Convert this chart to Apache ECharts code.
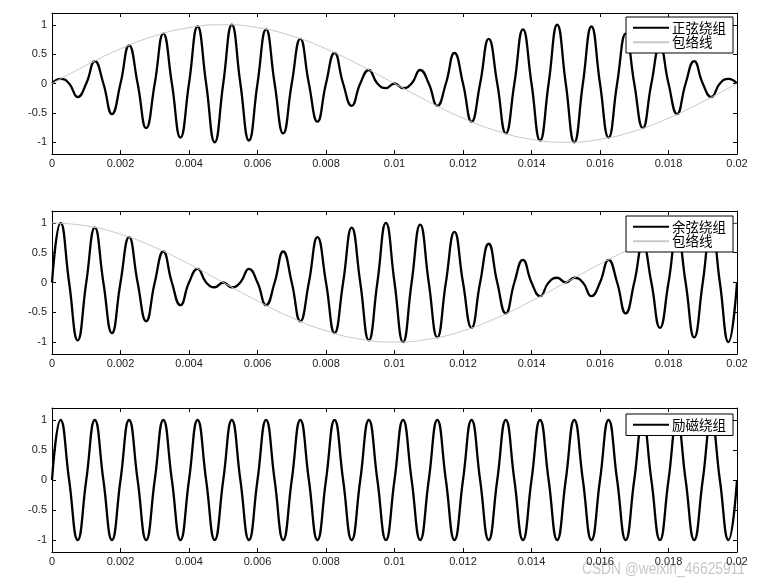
<!DOCTYPE html>
<html>
<head>
<meta charset="utf-8">
<script src="https://cdn.jsdelivr.net/npm/echarts@6/dist/echarts.min.js"></script>
<style>
html, body { margin: 0; background: #fff; }
#chart { width: 761px; height: 585px; }
</style>
</head>
<body>
<div id="chart"></div>
<script>
// peak of every half cycle of the 1 kHz carrier (one per 0.0005 s)
var sinePeaks = [0.08, -0.23, 0.38, -0.52, 0.65, -0.76, 0.85, -0.92, 0.97, -1, 1, -0.97, 0.92, -0.85, 0.76, -0.65, 0.52, -0.38, 0.23, -0.08,
                 -0.08, 0.23, -0.38, 0.52, -0.65, 0.76, -0.85, 0.92, -0.97, 1, -1, 0.97, -0.92, 0.85, -0.76, 0.65, -0.52, 0.38, -0.23, 0.08];
var cosPeaks = [1, -0.97, 0.92, -0.85, 0.76, -0.65, 0.52, -0.38, 0.23, -0.08, -0.08, 0.23, -0.38, 0.52, -0.65, 0.76, -0.85, 0.92, -0.97, 1,
                -1, 0.97, -0.92, 0.85, -0.76, 0.65, -0.52, 0.38, -0.23, 0.08, 0.08, -0.23, 0.38, -0.52, 0.65, -0.76, 0.85, -0.92, 0.97, -1];
var excPeaks = [1, -1, 1, -1, 1, -1, 1, -1, 1, -1, 1, -1, 1, -1, 1, -1, 1, -1, 1, -1,
                1, -1, 1, -1, 1, -1, 1, -1, 1, -1, 1, -1, 1, -1, 1, -1, 1, -1, 1, -1];

// envelopes, one point every 0.001 s
var envTimes = [0, 0.001, 0.002, 0.003, 0.004, 0.005, 0.006, 0.007, 0.008, 0.009, 0.01,
                0.011, 0.012, 0.013, 0.014, 0.015, 0.016, 0.017, 0.018, 0.019, 0.02];
var sineEnv = [0, 0.31, 0.59, 0.81, 0.95, 1, 0.95, 0.81, 0.59, 0.31, 0, -0.31, -0.59, -0.81, -0.95, -1, -0.95, -0.81, -0.59, -0.31, 0];
var cosEnv = [1, 0.95, 0.81, 0.59, 0.31, 0, -0.31, -0.59, -0.81, -0.95, -1, -0.95, -0.81, -0.59, -0.31, 0, 0.31, 0.59, 0.81, 0.95, 1];

var yTicks = [-1, -0.5, 0, 0.5, 1];
var halfCycle = 0.0005;

// zero crossing at start of each half cycle, peak in the middle
function wave(peaks) {
    var pts = [];
    for (var i = 0; i < peaks.length; i++) {
        pts.push([i * halfCycle, 0]);
        pts.push([i * halfCycle + halfCycle / 2, peaks[i]]);
    }
    pts.push([peaks.length * halfCycle, 0]);
    return pts;
}
function pairs(xs, ys) {
    return xs.map(function (x, i) { return [x, ys[i]]; });
}

var grids = [
    { left: 52, right: 24, top: 13, height: 141 },
    { left: 52, right: 24, top: 211, height: 143 },
    { left: 52, right: 24, top: 408, height: 144 }
];

var axisFont = { fontFamily: 'Liberation Sans', fontSize: 11, color: '#222' };
var xAxes = [], yAxes = [];
grids.forEach(function (g, i) {
    ['bottom', 'top'].forEach(function (pos) {
        xAxes.push({
            type: 'value', gridIndex: i, position: pos, min: 0, max: 0.02, interval: 0.002,
            axisLine: { onZero: false, lineStyle: { color: '#000', width: 1 } },
            axisTick: { inside: true, length: 4, lineStyle: { color: '#000' } },
            axisLabel: Object.assign({
                show: pos === 'bottom', margin: 4,
                formatter: function (v) { return String(+v.toFixed(3)); }
            }, axisFont),
            splitLine: { show: false }
        });
    });
    ['left', 'right'].forEach(function (pos) {
        yAxes.push({
            type: 'value', gridIndex: i, position: pos, min: -1.2, max: 1.2,
            axisLine: { show: true, onZero: false, lineStyle: { color: '#000', width: 1 } },
            axisTick: { show: true, inside: true, length: 4, customValues: yTicks, lineStyle: { color: '#000' } },
            axisLabel: Object.assign({ show: pos === 'left', margin: 5, customValues: yTicks }, axisFont),
            splitLine: { show: false }
        });
    });
});

function signal(name, data, i) {
    return {
        name: name, type: 'line', xAxisIndex: 2 * i, yAxisIndex: 2 * i,
        data: data, smooth: 0.5, symbol: 'none',
        lineStyle: { color: '#000', width: 2.3 }, itemStyle: { color: '#000' }
    };
}
function envelope(data, i) {
    return {
        name: '包络线', type: 'line', xAxisIndex: 2 * i, yAxisIndex: 2 * i,
        data: data, smooth: true, symbol: 'none',
        lineStyle: { color: '#c8c8c8', width: 1 }, itemStyle: { color: '#c8c8c8' }
    };
}

function legendAt(top, names) {
    return {
        orient: 'vertical', right: 28, top: top, data: names,
        backgroundColor: '#fff', borderColor: '#000', borderWidth: 1, borderRadius: 0,
        padding: [4, 7, 4, 6], itemGap: 1, itemWidth: 36, itemHeight: 14,
        itemStyle: { opacity: 0 },
        textStyle: { fontFamily: 'Noto Sans CJK SC', fontSize: 13.5, color: '#000', padding: [0, 0, 0, -2] }
    };
}

var chart = echarts.init(document.getElementById('chart'));
chart.setOption({
    backgroundColor: '#fff',
    animation: false,
    grid: grids,
    xAxis: xAxes,
    yAxis: yAxes,
    legend: [
        legendAt(17, ['正弦绕组', '包络线']),
        legendAt(216, ['余弦绕组', '包络线']),
        legendAt(414, ['励磁绕组'])
    ],
    series: [
        signal('正弦绕组', wave(sinePeaks), 0),
        envelope(pairs(envTimes, sineEnv), 0),
        signal('余弦绕组', wave(cosPeaks), 1),
        envelope(pairs(envTimes, cosEnv), 1),
        signal('励磁绕组', wave(excPeaks), 2)
    ],
    graphic: [{
        type: 'text', x: 582, y: 562, scaleX: 0.86,
        style: { text: 'CSDN @weixin_46625911', fill: '#c8c8c8', font: '16px "Liberation Sans"' }
    }]
});
</script>
</body>
</html>
